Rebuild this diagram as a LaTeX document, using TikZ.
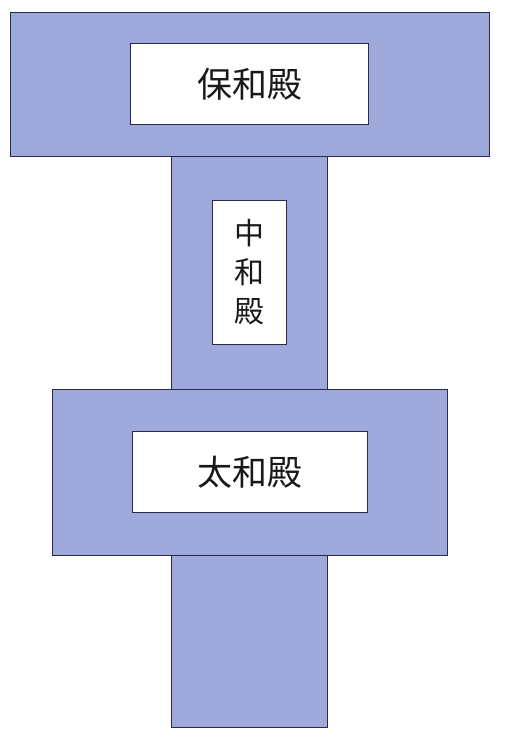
\documentclass[tikz,border=0pt]{standalone}
\usepackage{fontspec}
\newfontfamily\cjk{Noto Sans CJK SC}
\definecolor{hallfill}{RGB}{159,168,218}
\definecolor{hallline}{RGB}{40,42,72}
\begin{document}
\begin{tikzpicture}[x=1pt,y=-1pt,
  block/.style={draw=hallline, fill=hallfill, line width=1pt, inner sep=0pt, rectangle},
  label/.style={draw=hallline, fill=white, line width=1pt, inner sep=0pt, rectangle,
    font=\cjk\fontsize{35}{40}\selectfont, align=center, text=black!90},
  vlabel/.style={label, font=\cjk\fontsize{30}{39}\selectfont}]
\useasboundingbox[fill=white] (0,0) rectangle (504,741);
\node[block, minimum width=155.5pt, minimum height=234pt] (stemA) at (249.25,273) {};
\node[block, minimum width=155.5pt, minimum height=172pt] (stemB) at (249.25,641) {};
\node[block, minimum width=479pt, minimum height=143pt] (top) at (249.5,84.5) {};
\node[block, minimum width=395pt, minimum height=165.5pt] (mid) at (249.5,472.25) {};
\node[label, minimum width=238pt, minimum height=81pt] (baohe) at (top.center) {保和殿};
\node[vlabel, minimum width=74pt, minimum height=143.5pt] (zhonghe) at (249,272.25) {中\\和\\殿};
\node[label, minimum width=235pt, minimum height=81pt] (taihe) at (mid.center) {太和殿};
\end{tikzpicture}
\end{document}
